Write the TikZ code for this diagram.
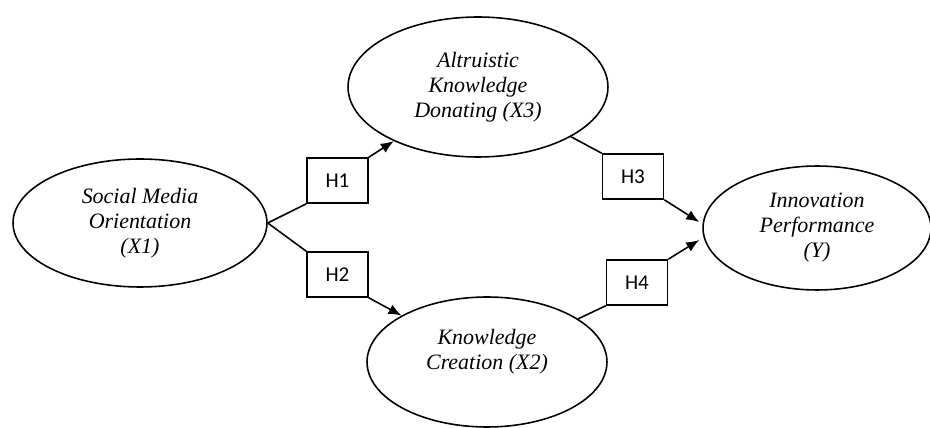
\documentclass[tikz,border=0pt]{standalone}
\usepackage{fontspec}
\setmainfont{Liberation Serif}
\newfontfamily\hypfont{Carlito}
\usetikzlibrary{arrows.meta,calc,positioning,shapes.geometric}

\begin{document}
\begin{tikzpicture}[
    x=0.02cm, y=-0.02cm,
    >={Latex[length=2.6mm,width=2.1mm]},
    link/.style={line width=0.9pt},
    construct/.style={draw,ellipse,line width=0.9pt,inner sep=0pt,align=center,font=\itshape\fontsize{12.5}{14.2}\selectfont},
    hyp/.style={draw,line width=0.9pt,fill=white,minimum width=12.2mm,minimum height=9mm,inner sep=0pt,font=\hypfont\fontsize{12}{14}\selectfont}
]
\useasboundingbox (0,0) rectangle (930,428);

% --- Constructs ---
\node[construct,minimum width=5.08cm,minimum height=2.56cm] (X1) at (140,223) {Social Media\\Orientation\\(X1)};
\node[construct,minimum width=5.2cm,minimum height=2.8cm] (X3) at (478,87) {Altruistic\\Knowledge\\Donating (X3)};
\node[construct,minimum width=4.8cm,minimum height=2.6cm] (X2) at (487,362) {Knowledge\\Creation (X2)\\\mbox{}};
\node[construct,minimum width=4.56cm,minimum height=2.48cm] (Y) at (817,228) {Innovation\\Performance\\(Y)};

% --- Hypotheses ---
\node[hyp] (H1) at (337.5,180.5) {H1};
\node[hyp] (H2) at (337.5,274.5) {H2};
\node[hyp] (H3) at (633,176.5) {H3};
\node[hyp] (H4) at (637,282.5) {H4};

% Arrow ends at Y
\coordinate (Yin3) at ($(Y.west)+(-3,-6)$);
\coordinate (Yin4) at ($(Y.west)+(-3,12)$);

% --- Paths ---
\draw[link] (X1.east) -- (H1.south west);
\draw[link,->] (H1.north east) -- (X3);
\draw[link] (X1.east) -- (H2.north west);
\draw[link,->] (H2.south east) -- (X2);
\draw[link] (X3) -- (H3.north west);
\draw[link,->] (H3.south east) -- (Yin3);
\draw[link] (X2) -- (H4.south west);
\draw[link,->] (H4.north east) -- (Yin4);
\end{tikzpicture}
\end{document}
